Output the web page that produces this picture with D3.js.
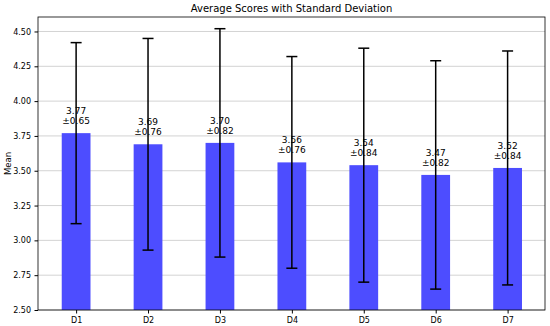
<!DOCTYPE html>
<html><head><meta charset="utf-8">
<script src="https://cdn.jsdelivr.net/npm/d3@7"></script>
<style>body{margin:0;background:#fff}svg{display:block;font-family:"DejaVu Sans",sans-serif}</style>
</head><body><svg id="c" width="550" height="326"></svg>
<script>
const categories = ["D1","D2","D3","D4","D5","D6","D7"];
const means = [3.77,3.69,3.70,3.56,3.54,3.47,3.52];
const sds = [0.65,0.76,0.82,0.76,0.84,0.82,0.84];
const yTicks = [2.50,2.75,3.00,3.25,3.50,3.75,4.00,4.25,4.50];

const svg = d3.select("#c");
const L=38,R=545,T=17,B=310;
const x = d3.scaleLinear().domain([-0.53,6.52]).range([L,R]);
const y = d3.scaleLinear().domain([2.5,4.604]).range([B,T]);
const bw = x(0.4)-x(0);

svg.append("g").selectAll("line").data(yTicks).join("line")
  .attr("x1",L).attr("x2",R).attr("y1",d=>y(d)).attr("y2",d=>y(d))
  .attr("stroke","#d3d3d3").attr("stroke-width",1);

svg.append("g").selectAll("rect").data(means).join("rect")
  .attr("x",(d,i)=>x(i)-bw/2).attr("width",bw)
  .attr("y",d=>y(d)).attr("height",d=>B-y(d))
  .attr("fill","#4d4dff");

const eb = svg.append("g").attr("stroke","#000").attr("stroke-width",1.5);
means.forEach((m,i)=>{
  const cx=x(i);
  eb.append("line").attr("x1",cx).attr("x2",cx).attr("y1",y(m-sds[i])).attr("y2",y(m+sds[i]));
  eb.append("line").attr("x1",cx-5.5).attr("x2",cx+5.5).attr("y1",y(m-sds[i])).attr("y2",y(m-sds[i]));
  eb.append("line").attr("x1",cx-5.5).attr("x2",cx+5.5).attr("y1",y(m+sds[i])).attr("y2",y(m+sds[i]));
});

const lab = svg.append("g").attr("font-size",9).attr("text-anchor","middle").attr("fill","#000");
means.forEach((m,i)=>{
  const by=y(m+0.05);
  lab.append("text").attr("x",x(i)).attr("y",by-12).text(m.toFixed(2));
  lab.append("text").attr("x",x(i)).attr("y",by-2).text("±"+sds[i].toFixed(2));
});

const ya = svg.append("g").attr("transform",`translate(${L},0)`)
  .call(d3.axisLeft(y).tickValues(yTicks).tickFormat(d3.format(".2f")).tickSize(3.5).tickPadding(3.5));
ya.select(".domain").remove();
ya.selectAll("text").attr("font-size",8).attr("font-family","DejaVu Sans").attr("fill","#000");
const xa = svg.append("g").attr("transform",`translate(0,${B})`)
  .call(d3.axisBottom(x).tickValues(d3.range(7)).tickFormat(i=>categories[i]).tickSize(3.5).tickPadding(3.5));
xa.select(".domain").remove();
xa.selectAll("text").attr("font-size",8).attr("font-family","DejaVu Sans").attr("fill","#000");

svg.append("rect").attr("x",L).attr("y",T).attr("width",R-L).attr("height",B-T)
  .attr("fill","none").attr("stroke","#000").attr("stroke-width",0.8);

svg.append("text").attr("x",(L+R)/2).attr("y",12).attr("text-anchor","middle")
  .attr("font-size",10).text("Average Scores with Standard Deviation");
svg.append("text").attr("transform",`translate(11,${(T+B)/2}) rotate(-90)`).attr("text-anchor","middle")
  .attr("font-size",8.5).text("Mean");
</script></body></html>
